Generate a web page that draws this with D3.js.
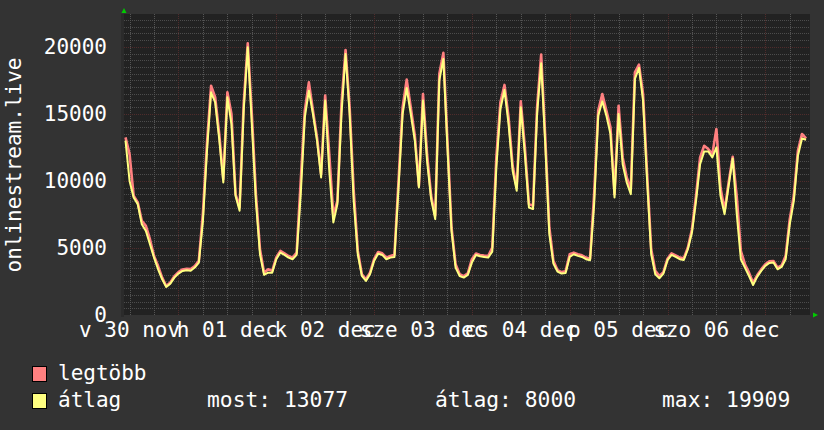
<!DOCTYPE html>
<html><head><meta charset="utf-8">
<script src="https://cdn.jsdelivr.net/npm/d3@7"></script>
<style>html,body{margin:0;padding:0;background:#333333;}svg{display:block;}</style>
</head><body>
<script>
// ---- data (hourly samples starting 2025-11-30 11:00 UTC) ----
const startTime = "2025-11-30T11:00:00Z";
const avgValues = [13000,10000,8765,8270,6770,6275,5280,4285,3410,2665,2090,2340,2790,3090,3290,3340,3300,3540,3910,7020,12250,16610,15860,13120,9885,16235,14240,8890,7770,15240,19970,14240,8520,4530,2990,3160,3160,4160,4660,4480,4280,4160,4480,9015,14740,16730,14990,13000,10260,15990,10760,6900,8270,14990,19470,14990,8515,4530,2915,2540,3040,4035,4580,4480,4160,4280,4330,9510,14990,16930,14990,13000,9510,15990,11500,8640,7150,17480,19100,12500,6280,3530,2910,2790,2990,3910,4480,4380,4330,4280,4730,11000,15360,16780,14240,10760,9260,15490,12000,8020,7900,14990,18775,12750,6030,3835,3240,3090,3140,4330,4530,4410,4330,4160,4085,8270,14870,15940,14870,13500,8765,14990,11250,9885,9015,17605,18430,15990,10010,4530,3040,2740,3090,4085,4480,4330,4160,4110,4905,6150,8515,11255,12200,12200,11750,12500,8890,7520,9635,11680,7520,4160,3535,2910,2240,2840,3290,3660,3885,3910,3410,3585,4160,6770,8515,11880,13170,13077];
const maxValues = [13250,12000,8900,8400,7020,6650,5650,4400,3650,2790,2160,2420,2900,3200,3400,3450,3420,3650,4050,7600,12800,17100,16240,13500,10130,16610,14990,9015,8020,15740,20270,14990,9015,4905,3160,3410,3300,4300,4780,4600,4400,4280,4650,10010,15240,17355,15240,13250,10510,16360,12000,7400,8515,15740,19770,15490,9260,4780,3040,2660,3160,4160,4700,4600,4280,4400,4500,10010,15490,17555,15490,13370,9635,16485,12000,8890,7400,17980,19550,13000,6530,3780,3040,2900,3100,4160,4580,4480,4430,4400,5030,11750,15860,17160,14740,11130,9510,15935,12500,8270,8150,15490,19420,13250,6530,4035,3350,3200,3260,4530,4650,4530,4450,4280,4200,9015,15240,16485,15240,14000,9015,15610,11750,10260,9385,18105,18675,16485,10510,4905,3290,2915,3200,4200,4600,4450,4280,4230,5030,6400,8890,11750,12625,12375,12000,13870,9510,7770,9885,11800,8800,4780,3785,3160,2415,2960,3400,3780,4000,4030,3530,3700,4410,7150,8890,12250,13500,13170];
const seriesNames = ["legtöbb", "átlag"];
const legendStats = ["most: 13077", "átlag: 8000", "max: 19909"];
const yTickValues = [0, 5000, 10000, 15000, 20000];
const yTitle = "onlinestream.live";
const domainStart = "2025-11-30T10:38:00Z";
const domainEnd = "2025-12-07T10:58:00Z";
const shortDays = ["v", "h", "k", "sze", "cs", "p", "szo"];
const shortMonths = ["jan", "feb", "már", "ápr", "máj", "jún", "júl", "aug", "szep", "okt", "nov", "dec"];

const W = 824, H = 430;
const L = 124, R = 810, T = 14, B = 315;
const FONT = "'DejaVu Sans Mono', monospace";

const svg = d3.select("body").append("svg").attr("width", W).attr("height", H);
svg.append("rect").attr("width", W).attr("height", H).attr("fill", "#333333");

const x = d3.scaleUtc().domain([new Date(domainStart), new Date(domainEnd)]).range([L, R]);
const y = d3.scaleLinear().domain([0, 22450]).range([B, T]);

svg.append("rect").attr("x", L - 3).attr("y", T).attr("width", 3).attr("height", B - T + 2).attr("fill", "#2b2b2b");
svg.append("rect").attr("x", L).attr("y", T).attr("width", R - L).attr("height", B - T).attr("fill", "#222222");

// grid
const g = svg.append("g");
const minorY = d3.range(500, 22500, 500).filter(v => v % 5000 !== 0);
g.selectAll(".hy").data(minorY).join("line")
  .attr("x1", L).attr("x2", R).attr("y1", d => Math.round(y(d)) + 0.5).attr("y2", d => Math.round(y(d)) + 0.5)
  .attr("stroke", "#4c4c4c").attr("stroke-dasharray", "1,1");
const hours6 = d3.utcHour.every(6).range(x.domain()[0], x.domain()[1]).filter(d => d.getUTCHours() !== 0);
g.selectAll(".vx").data(hours6).join("line")
  .attr("x1", d => Math.round(x(d)) + 0.5).attr("x2", d => Math.round(x(d)) + 0.5).attr("y1", T).attr("y2", B)
  .attr("stroke", "#555555").attr("stroke-dasharray", "1,1");
const majorY = yTickValues.filter(v => v > 0);
g.selectAll(".my").data(majorY).join("line")
  .attr("x1", L).attr("x2", R).attr("y1", d => Math.round(y(d)) + 0.5).attr("y2", d => Math.round(y(d)) + 0.5)
  .attr("stroke", "#502c2c").attr("stroke-dasharray", "1,1");
const days = d3.utcDay.range(x.domain()[0], x.domain()[1]);
g.selectAll(".mx").data(days).join("line")
  .attr("x1", d => Math.round(x(d)) + 0.5).attr("x2", d => Math.round(x(d)) + 0.5).attr("y1", T).attr("y2", B)
  .attr("stroke", "#502c2c").attr("stroke-dasharray", "1,1");

// series
const t0 = new Date(startTime).getTime();
const times = avgValues.map((_, i) => new Date(t0 + i * 3600000));
const line = d3.line().x((d, i) => x(times[i])).y(d => y(d)).curve(d3.curveLinear);
svg.append("path").attr("d", line(maxValues)).attr("fill", "none").attr("stroke", "#ff8080").attr("stroke-width", 2.6).attr("stroke-linejoin", "round");
svg.append("path").attr("d", line(avgValues)).attr("fill", "none").attr("stroke", "#ffff80").attr("stroke-width", 2).attr("stroke-linejoin", "round");

// arrows
svg.append("path").attr("d", `M${L-2.5},13 L${L+2.5},13 L${L},8 Z`).attr("fill", "#00cc00");
svg.append("path").attr("d", `M${R+3},${B-2.5} L${R+3},${B+2.5} L${R+8},${B} Z`).attr("fill", "#00cc00");

// y labels
svg.append("g").selectAll("text").data(yTickValues).join("text")
  .attr("x", 107).attr("y", d => y(d) + 7).attr("text-anchor", "end")
  .attr("font-family", FONT).attr("font-size", 21).attr("fill", "#ffffff").text(d => d);

// x labels
const hu = d3.timeFormatLocale({
  dateTime: "%Y. %B %-e., %A %X", date: "%Y. %m. %d.", time: "%H:%M:%S", periods: ["de.", "du."],
  days: ["vasárnap","hétfő","kedd","szerda","csütörtök","péntek","szombat"], shortDays: shortDays,
  months: ["január","február","március","április","május","június","július","augusztus","szeptember","október","november","december"], shortMonths: shortMonths
});
const fmt = hu.utcFormat("%a %d %b");
const labelDays = d3.utcDay.range(d3.utcDay.floor(x.domain()[0]), x.domain()[1])
  .filter(d => x(d3.utcHour.offset(d, 12)) < R);
svg.append("g").selectAll("text").data(labelDays).join("text")
  .attr("x", d => x(d3.utcHour.offset(d, 12))).attr("y", 337).attr("text-anchor", "middle")
  .attr("font-family", FONT).attr("font-size", 21).attr("fill", "#ffffff").text(d => fmt(d));

// y title
svg.append("text").attr("transform", "translate(21,165) rotate(-90)").attr("text-anchor", "middle")
  .attr("font-family", FONT).attr("font-size", 21).attr("fill", "#ffffff").text(yTitle);

// legend
const legendColors = ["#ff8080", "#ffff80"];
const rows = [380, 407];
seriesNames.forEach((n, i) => {
  svg.append("rect").attr("x", 32.5).attr("y", rows[i] - 13.5).attr("width", 14).attr("height", 15)
    .attr("fill", legendColors[i]).attr("stroke", "#000").attr("stroke-width", 1);
  svg.append("text").attr("x", 58).attr("y", rows[i]).attr("font-family", FONT).attr("font-size", 21)
    .attr("fill", "#ffffff").text(n);
});
const statX = [207, 435, 662];
legendStats.forEach((s, i) => {
  svg.append("text").attr("x", statX[i]).attr("y", rows[1]).attr("font-family", FONT).attr("font-size", 21.3)
    .attr("fill", "#ffffff").text(s);
});
</script>
</body></html>
